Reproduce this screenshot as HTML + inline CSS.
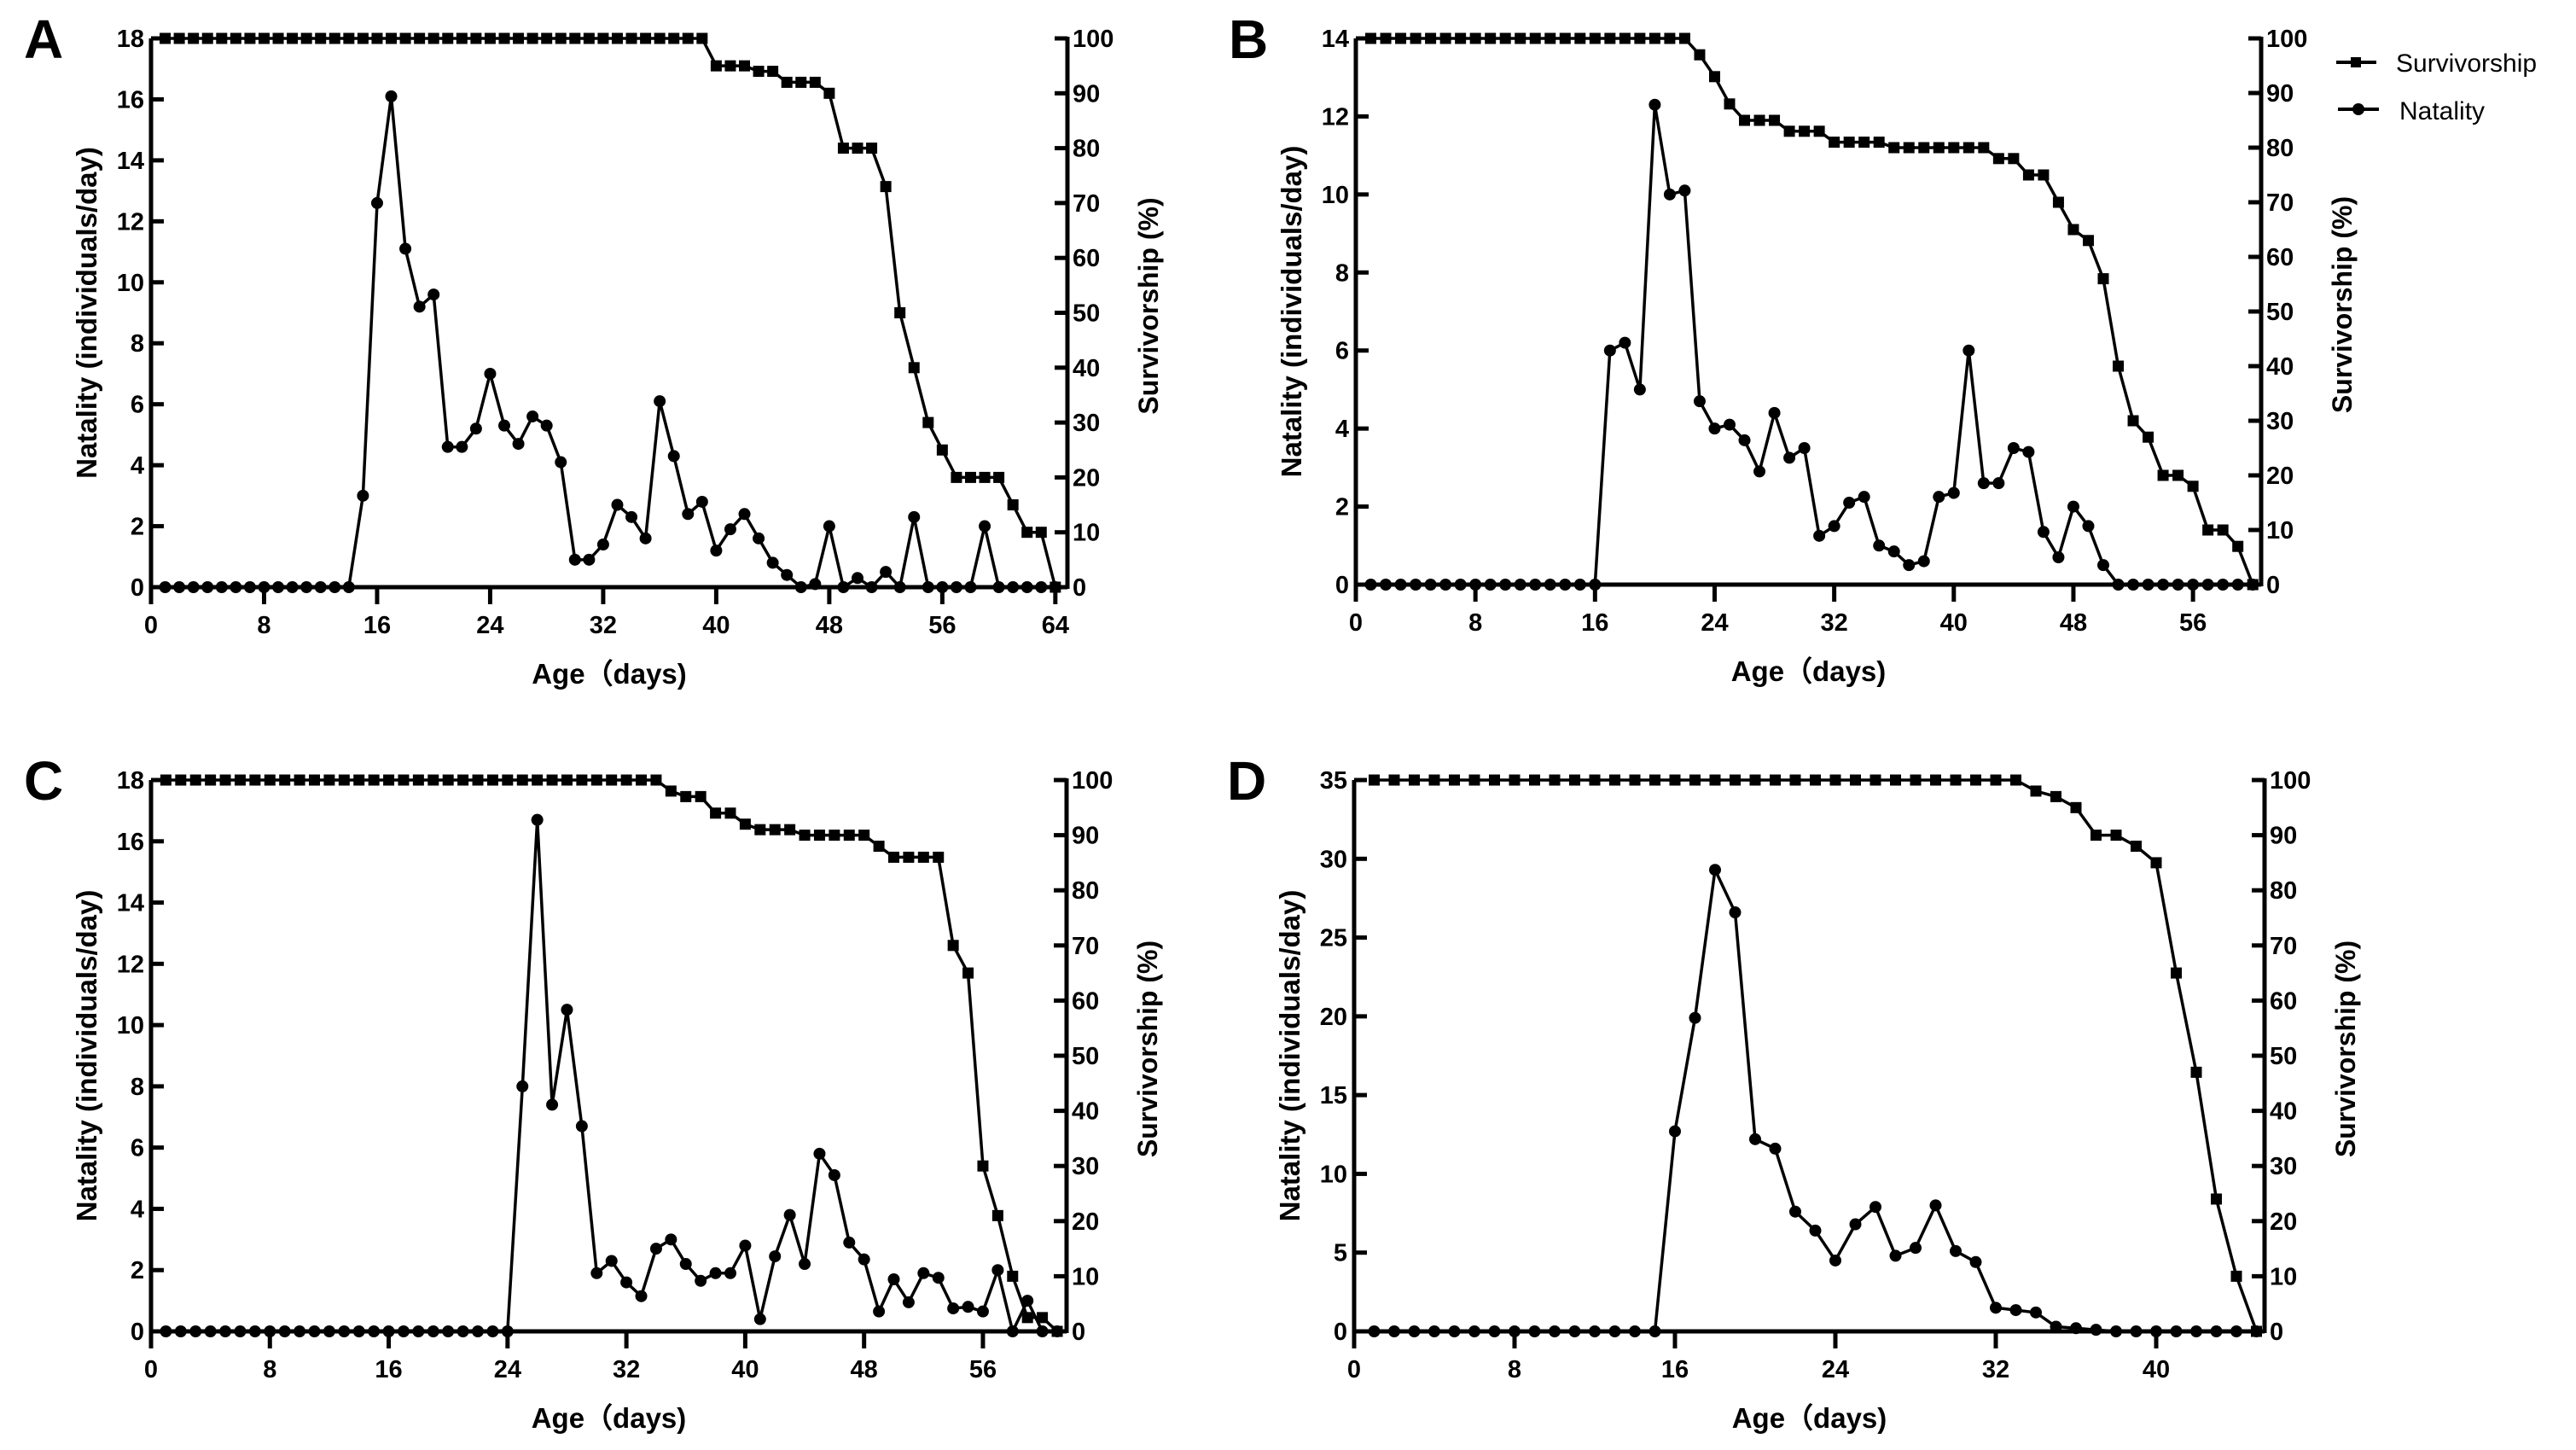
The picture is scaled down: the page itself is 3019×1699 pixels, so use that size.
<!DOCTYPE html>
<html><head><meta charset="utf-8">
<style>
html,body{margin:0;padding:0;background:#fff;}
svg{display:block;font-family:"Liberation Sans",Arial,sans-serif;}
</style></head>
<body>
<svg id="fig" width="3019" height="1699" viewBox="0 0 3019 1699" xmlns="http://www.w3.org/2000/svg">
<rect width="3019" height="1699" fill="#fff"/>
<g>
  <g>
    <line x1="2738" y1="73" x2="2785" y2="73" stroke="#000" stroke-width="4"/>
    <rect x="2755" y="67" width="12" height="12" fill="#000"/>
    <text x="2808" y="84" font-size="30">Survivorship</text>
  </g>
  <g>
    <line x1="2740" y1="128" x2="2788" y2="128" stroke="#000" stroke-width="4"/>
    <circle cx="2764" cy="128" r="7" fill="#000"/>
    <text x="2812" y="140" font-size="30">Natality</text>
  </g>
</g>
</svg>
<script>
// Panel A data
const daysA = [1,2,3,4,5,6,7,8,9,10,11,12,13,14,15,16,17,18,19,20,21,22,23,24,25,26,27,28,29,30,31,32,33,34,35,36,37,38,39,40,41,42,43,44,45,46,47,48,49,50,51,52,53,54,55,56,57,58,59,60,61,62,63,64];
const natalityA = [0,0,0,0,0,0,0,0,0,0,0,0,0,0,3,12.6,16.1,11.1,9.2,9.6,4.6,4.6,5.2,7.0,5.3,4.7,5.6,5.3,4.1,0.9,0.9,1.4,2.7,2.3,1.6,6.1,4.3,2.4,2.8,1.2,1.9,2.4,1.6,0.8,0.4,0,0.1,2.0,0,0.3,0,0.5,0,2.3,0,0,0,0,2.0,0,0,0,0,0];
const survivalA = [100,100,100,100,100,100,100,100,100,100,100,100,100,100,100,100,100,100,100,100,100,100,100,100,100,100,100,100,100,100,100,100,100,100,100,100,100,100,100,95,95,95,94,94,92,92,92,90,80,80,80,73,50,40,30,25,20,20,20,20,15,10,10,0];
const leftTicksA = [0,2,4,6,8,10,12,14,16,18];
// Panel B data
const daysB = [1,2,3,4,5,6,7,8,9,10,11,12,13,14,15,16,17,18,19,20,21,22,23,24,25,26,27,28,29,30,31,32,33,34,35,36,37,38,39,40,41,42,43,44,45,46,47,48,49,50,51,52,53,54,55,56,57,58,59,60];
const natalityB = [0,0,0,0,0,0,0,0,0,0,0,0,0,0,0,0,6.0,6.2,5.0,12.3,10.0,10.1,4.7,4.0,4.1,3.7,2.9,4.4,3.25,3.5,1.25,1.5,2.1,2.25,1.0,0.85,0.5,0.6,2.25,2.35,6.0,2.6,2.6,3.5,3.4,1.35,0.7,2.0,1.5,0.5,0,0,0,0,0,0,0,0,0,0];
const survivalB = [100,100,100,100,100,100,100,100,100,100,100,100,100,100,100,100,100,100,100,100,100,100,97,93,88,85,85,85,83,83,83,81,81,81,81,80,80,80,80,80,80,80,78,78,75,75,70,65,63,56,40,30,27,20,20,18,10,10,7,0];
const leftTicksB = [0,2,4,6,8,10,12,14];
// Panel C data
const daysC = [1,2,3,4,5,6,7,8,9,10,11,12,13,14,15,16,17,18,19,20,21,22,23,24,25,26,27,28,29,30,31,32,33,34,35,36,37,38,39,40,41,42,43,44,45,46,47,48,49,50,51,52,53,54,55,56,57,58,59,60,61];
const natalityC = [0,0,0,0,0,0,0,0,0,0,0,0,0,0,0,0,0,0,0,0,0,0,0,0,8.0,16.7,7.4,10.5,6.7,1.9,2.3,1.6,1.15,2.7,3.0,2.2,1.65,1.9,1.9,2.8,0.4,2.45,3.8,2.2,5.8,5.1,2.9,2.35,0.65,1.7,0.95,1.9,1.75,0.75,0.8,0.65,2.0,0,1.0,0,0];
const survivalC = [100,100,100,100,100,100,100,100,100,100,100,100,100,100,100,100,100,100,100,100,100,100,100,100,100,100,100,100,100,100,100,100,100,100,98,97,97,94,94,92,91,91,91,90,90,90,90,90,88,86,86,86,86,70,65,30,21,10,2.5,2.5,0];
const leftTicksC = [0,2,4,6,8,10,12,14,16,18];
// Panel D data
const daysD = [1,2,3,4,5,6,7,8,9,10,11,12,13,14,15,16,17,18,19,20,21,22,23,24,25,26,27,28,29,30,31,32,33,34,35,36,37,38,39,40,41,42,43,44,45];
const natalityD = [0,0,0,0,0,0,0,0,0,0,0,0,0,0,0,12.7,19.9,29.3,26.6,12.2,11.6,7.6,6.4,4.5,6.8,7.9,4.8,5.3,8.0,5.1,4.4,1.5,1.35,1.2,0.3,0.2,0.1,0,0,0,0,0,0,0,0];
const survivalD = [100,100,100,100,100,100,100,100,100,100,100,100,100,100,100,100,100,100,100,100,100,100,100,100,100,100,100,100,100,100,100,100,100,98,97,95,90,90,88,85,65,47,24,10,0];
const leftTicksD = [0,5,10,15,20,25,30,35];
const rightTicks = [0,10,20,30,40,50,60,70,80,90,100];
const xTicksA = [0,8,16,24,32,40,48,56,64];
const xTicksB = [0,8,16,24,32,40,48,56];
const xTicksC = [0,8,16,24,32,40,48,56];
const xTicksD = [0,8,16,24,32,40];

const NS = 'http://www.w3.org/2000/svg';
const svg = document.getElementById('fig');
function mk(tag, attrs, parent){
  const e = document.createElementNS(NS, tag);
  for (const k in attrs) e.setAttribute(k, attrs[k]);
  parent.appendChild(e);
  return e;
}
function panel(cfg){
  const g = mk('g', {}, svg);
  
  
  const xs = d => cfg.x0 + (d / cfg.xUnit) * (cfg.xUnitPx);
  const yl = v => cfg.y0 - v / cfg.lmax * (cfg.y0 - cfg.yt);
  const yr = v => cfg.y0 - v / 100 * (cfg.y0 - cfg.yt);
  const xr = cfg.xr;
  const lt = mk('text', {x: cfg.x0 - 149, y: cfg.yt + 23, 'font-size': 64, 'font-weight': 'bold'}, g);
  lt.textContent = cfg.id;
  
  
  const ax = mk('g', {stroke: '#000', 'stroke-width': 5, fill: 'none'}, g);
  
  
  mk('line', {x1: cfg.x0, y1: cfg.yt, x2: cfg.x0, y2: cfg.y0 + 20}, ax);
  mk('line', {x1: cfg.x0, y1: cfg.y0, x2: xr, y2: cfg.y0}, ax);
  mk('line', {x1: xr, y1: cfg.yt - 2, x2: xr, y2: cfg.y0 + 2}, ax);
  cfg.lticks.forEach(v => {
    const y = yl(v);
    mk('line', {x1: cfg.x0, y1: y, x2: cfg.x0 + 15, y2: y}, ax);
    const t = mk('text', {x: cfg.x0 - 8, y: y + 10, 'font-size': 29, 'font-weight': 'bold', 'text-anchor': 'end'}, g);
    t.textContent = v;
    
    
  });
  rightTicks.forEach(v => {
    const y = yr(v);
    mk('line', {x1: xr - 15, y1: y, x2: xr, y2: y}, ax);
    const t = mk('text', {x: xr + 6, y: y + 10, 'font-size': 29, 'font-weight': 'bold'}, g);
    t.textContent = v;
    
    
  });
  cfg.xticks.forEach(v => {
    const x = xs(v);
    mk('line', {x1: x, y1: cfg.y0, x2: x, y2: cfg.y0 + 20}, ax);
    const t = mk('text', {x: x, y: cfg.y0 + 54, 'font-size': 29, 'font-weight': 'bold', 'text-anchor': 'middle'}, g);
    t.textContent = v;
    
    
  });
  const xt = mk('text', {x: (cfg.x0 + xr) / 2, y: cfg.y0 + 113, 'font-size': 33, 'font-weight': 'bold', 'text-anchor': 'middle'}, g);
  xt.textContent = 'Age（days)';
  
  
  const cy = (cfg.y0 + cfg.yt) / 2;
  const yt1 = mk('text', {x: 0, y: 0, 'font-size': 33, 'font-weight': 'bold', 'text-anchor': 'middle', transform: 'translate(' + (cfg.x0 - 64) + ',' + cy + ') rotate(-90)'}, g);
  yt1.textContent = 'Natality (individuals/day)';
  
  
  const yt2 = mk('text', {x: 0, y: 0, 'font-size': 32, 'font-weight': 'bold', 'text-anchor': 'middle', transform: 'translate(' + (xr + 106) + ',' + (cy - 8) + ') rotate(-90)'}, g);
  yt2.textContent = 'Survivorship (%)';
  
  
  const sg = mk('g', {}, g);
  
  
  const sp = cfg.days.map((d, i) => xs(d).toFixed(1) + ',' + yr(cfg.surv[i]).toFixed(1)).join(' ');
  mk('polyline', {points: sp, fill: 'none', stroke: '#000', 'stroke-width': 3.5}, sg);
  cfg.days.forEach((d, i) => {
    const r = mk('rect', {x: xs(d) - 6.5, y: yr(cfg.surv[i]) - 6.5, width: 13, height: 13, fill: '#000'}, sg);
    
    
  });
  const ng = mk('g', {}, g);
  
  
  const np = cfg.days.map((d, i) => xs(d).toFixed(1) + ',' + yl(cfg.nat[i]).toFixed(1)).join(' ');
  mk('polyline', {points: np, fill: 'none', stroke: '#000', 'stroke-width': 3.5}, ng);
  cfg.days.forEach((d, i) => {
    const c = mk('circle', {cx: xs(d), cy: yl(cfg.nat[i]), r: 7, fill: '#000'}, ng);
    
    
  });
}
panel({id:'A', x0:177, xUnit:1, xUnitPx:16.56, xr:1251, y0:688, yt:45, lmax:18, lticks:leftTicksA, xticks:xTicksA, days:daysA, nat:natalityA, surv:survivalA});
panel({id:'B', x0:1589, xUnit:1, xUnitPx:17.52, xr:2650, y0:685, yt:45, lmax:14, lticks:leftTicksB, xticks:xTicksB, days:daysB, nat:natalityB, surv:survivalB});
panel({id:'C', x0:177, xUnit:1, xUnitPx:17.41, xr:1250, y0:1560, yt:914, lmax:18, lticks:leftTicksC, xticks:xTicksC, days:daysC, nat:natalityC, surv:survivalC});
panel({id:'D', x0:1587, xUnit:1, xUnitPx:23.5, xr:2654, y0:1560, yt:914, lmax:35, lticks:leftTicksD, xticks:xTicksD, days:daysD, nat:natalityD, surv:survivalD});
</script>
</body></html>
